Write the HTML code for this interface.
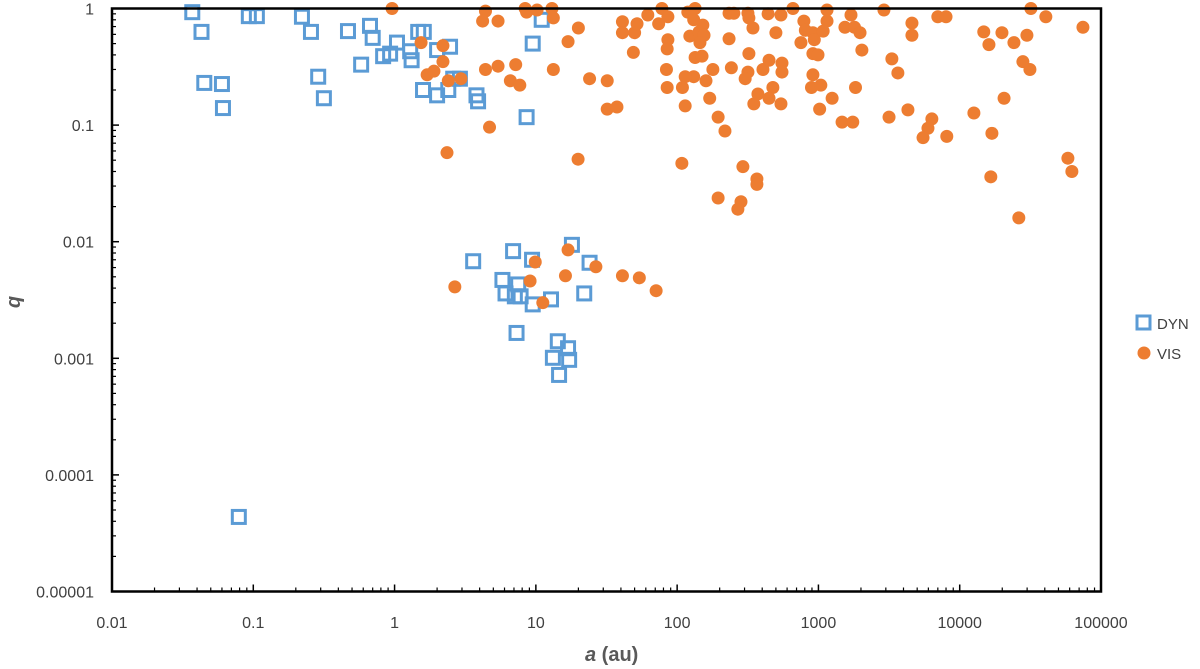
<!DOCTYPE html>
<html><head><meta charset="utf-8">
<style>
html,body{margin:0;padding:0;background:#fff;}
svg{display:block;font-family:"Liberation Sans",sans-serif;}
</style></head>
<body>
<svg id="chart" width="1200" height="669" viewBox="0 0 1200 669">
  <g id="plot"></g>
  <g id="axes"></g>
  <g>
    <g>
      <rect x="1137" y="316" width="13" height="13" fill="none" stroke="#5B9BD5" stroke-width="3"/>
      <text x="1157" y="329" font-size="15" fill="#404040">DYN</text>
    </g>
    <g>
      <circle cx="1144" cy="353" r="6.5" fill="#ED7D31"/>
      <text x="1157" y="359" font-size="15" fill="#404040">VIS</text>
    </g>
  </g>
  <text x="585" y="661" font-size="20" font-weight="bold" fill="#595959"><tspan font-style="italic">a</tspan> (au)</text>
  <text transform="translate(20,302) rotate(-90)" font-size="20" font-weight="bold" font-style="italic" fill="#595959" text-anchor="middle">q</text>
</svg>
<script>
const xTickValues=[0.01,0.1,1,10,100,1000,10000,100000];
const xTickLabels=["0.01","0.1","1","10","100","1000","10000","100000"];
const yTickValues=[1,0.1,0.01,0.001,0.0001,0.00001];
const yTickLabels=["1","0.1","0.01","0.001","0.0001","0.00001"];

const dynA=[0.037,0.043,0.045,0.060,0.061,0.093,0.106,0.221,0.256,0.288,0.316,0.468,0.58,0.67,0.70,0.83,0.93,1.04,1.29,1.32,1.47,1.61,1.59,2.0,2.0,2.47,2.4,2.6,2.9,3.8,3.9,8.6,9.5,11.0,0.079,
 3.6,6.9,9.4,18,24,5.8,7.5,6.1,7.1,7.8,9.5,12.8,22,7.3,14.3,16.9,13.2,17.2,14.6];
const dynQ=[0.93,0.63,0.23,0.225,0.14,0.86,0.86,0.85,0.63,0.26,0.17,0.64,0.33,0.71,0.56,0.39,0.41,0.51,0.43,0.36,0.63,0.63,0.20,0.44,0.18,0.47,0.20,0.25,0.25,0.18,0.16,0.117,0.50,0.80,0.0000436,
 0.0068,0.0083,0.0070,0.0094,0.0066,0.0047,0.0043,0.0036,0.0034,0.0034,0.0029,0.0032,0.0036,0.00165,0.0014,0.00122,0.00101,0.00097,0.00072];

const visA=[0.96,4.4,4.2,5.4,8.4,8.6,10.2,13,13.3,20,16.9,1.54,2.2,2.2,1.70,1.9,2.4,2.95,4.4,5.4,7.2,6.6,7.7,13.3,24,4.7,2.35,19.9,
 32,32,37.5,41,41,50,52,49,62,74,78,86,86,85,84,85,119,134,131,152,123,143,155,145,134,150,131,114,109,114,108,
 179,160,170,195,218,233,252,233,242,195,292,367,367,283,269,317,322,344,322,317,303,405,447,552,552,476,373,447,349,543,
 440,543,660,500,789,808,914,935,1150,1150,1080,752,914,993,914,893,1040,1020,1250,1470,1750,1700,1540,1800,1970,2030,1830,
 2910,3310,3650,3160,4590,4590,4300,6350,5960,5500,8100,7000,8000,12600,14800,16100,19900,24200,29900,28000,31400,20600,16900,16600,26200,31900,40700,58300,62200,74500,
 2.67,9.9,16.9,9.1,16.2,26.6,11.2,41,54,71];
const visQ=[1.0,0.95,0.78,0.78,1.0,0.93,0.97,1.0,0.83,0.68,0.52,0.51,0.48,0.35,0.27,0.29,0.24,0.25,0.30,0.32,0.33,0.24,0.22,0.30,0.25,0.096,0.058,0.051,
 0.24,0.137,0.143,0.77,0.62,0.62,0.74,0.42,0.88,0.74,1.0,0.85,0.54,0.45,0.30,0.21,0.93,1.0,0.80,0.72,0.58,0.63,0.59,0.51,0.38,0.39,0.26,0.26,0.21,0.146,0.047,
 0.30,0.24,0.17,0.117,0.089,0.91,0.91,0.55,0.31,0.0237,0.044,0.0345,0.031,0.022,0.019,0.91,0.83,0.68,0.41,0.285,0.25,0.30,0.36,0.34,0.285,0.21,0.185,0.17,0.152,0.152,
 0.90,0.88,1.0,0.62,0.78,0.65,0.62,0.54,0.97,0.78,0.64,0.51,0.41,0.40,0.27,0.21,0.22,0.137,0.17,0.106,0.106,0.88,0.69,0.69,0.62,0.44,0.21,
 0.97,0.37,0.28,0.117,0.75,0.59,0.135,0.113,0.094,0.078,0.080,0.85,0.85,0.127,0.63,0.49,0.62,0.51,0.59,0.35,0.30,0.17,0.085,0.036,0.016,1.0,0.85,0.052,0.040,0.69,
 0.0041,0.0067,0.0085,0.0046,0.0051,0.0061,0.0030,0.0051,0.0049,0.0038];

const L=112,R=1101,T=8.5,B=591.5;
const xMin=-2,xMax=5,yMin=-5,yMax=0;
function xs(v){return L+(Math.log10(v)-xMin)/(xMax-xMin)*(R-L);}
function ys(v){return B-(Math.log10(v)-yMin)/(yMax-yMin)*(B-T);}
const NS="http://www.w3.org/2000/svg";
function mk(tag,attrs,parent){const e=document.createElementNS(NS,tag);for(const k in attrs)e.setAttribute(k,attrs[k]);parent.appendChild(e);return e;}
const plot=document.getElementById('plot'),axes=document.getElementById('axes');

const frame=mk('rect',{x:L,y:T,width:R-L,height:B-T,fill:'none',stroke:'#000','stroke-width':2.5},axes);



for(let i=0;i<xTickValues.length;i++){
  const v=xTickValues[i],x=xs(v);
  const t=mk('line',{x1:x,x2:x,y1:B,y2:B-7,stroke:'#000','stroke-width':1.5},axes);
  
  
  const lb=mk('text',{x:x,y:628,'font-size':16,fill:'#404040','text-anchor':'middle'},axes);
  lb.textContent=xTickLabels[i];
  
  
  if(i<xTickValues.length-1){
    for(let m=2;m<=9;m++){
      const xm=xs(v*m);
      const mt=mk('line',{x1:xm,x2:xm,y1:B,y2:B-4,stroke:'#000','stroke-width':1.2},axes);
      
      
    }
  }
}
for(let i=0;i<yTickValues.length;i++){
  const v=yTickValues[i],y=ys(v);
  const t=mk('line',{x1:L,x2:L+7,y1:y,y2:y,stroke:'#000','stroke-width':1.5},axes);
  
  
  const lb=mk('text',{x:94,y:y+6,'font-size':16,fill:'#404040','text-anchor':'end'},axes);
  lb.textContent=yTickLabels[i];
  
  
  if(v>0.00001){
    for(let m=2;m<=9;m++){
      const ym=ys(v/10*m);
      const mt=mk('line',{x1:L,x2:L+4,y1:ym,y2:ym,stroke:'#000','stroke-width':1.2},axes);
      
      
    }
  }
}
for(let i=0;i<dynA.length;i++){
  const x=xs(dynA[i]),y=ys(dynQ[i]);
  const r=mk('rect',{x:x-6.5,y:y-6.5,width:13,height:13,fill:'none',stroke:'#5B9BD5','stroke-width':3},plot);
  
  
}
for(let i=0;i<visA.length;i++){
  const x=xs(visA[i]),y=ys(visQ[i]);
  const c=mk('circle',{cx:x,cy:y,r:6.5,fill:'#ED7D31'},plot);
  
  
}
</script>
</body></html>
